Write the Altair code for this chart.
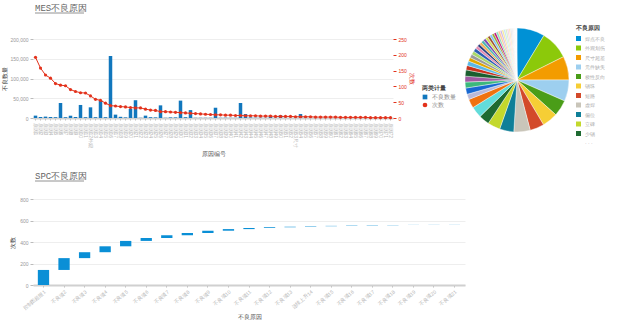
import altair as alt
import pandas as pd

BLUE = "#1177bd"
RED = "#e3321c"
WF_BLUE = "#0a8fd6"
PIE_COLORS = [
    "#0091d5", "#8cc90a", "#f39c00", "#9dcfef", "#4a9d18", "#f6ce35", "#d34a2a",
    "#c9c5b9", "#0f7f98", "#c3d82c", "#1e6a31", "#62dcda", "#f0720e", "#b9b9d8",
    "#1768d2", "#3bb87c", "#a05aa3", "#1a5e2f", "#c8311c", "#5ab7e6", "#e0a800",
    "#9a9a9a", "#a8d86a", "#2b5fb3", "#e58bb0", "#2c3e80", "#f4b05a", "#4cb7b0",
    "#7c4fb3", "#d4e157", "#a0522d", "#7fc8f8", "#9aa832", "#c2187b", "#90e0c0",
    "#ffc89a", "#cdb4e8", "#f5eb8f", "#c6e3f7", "#d6f0c0", "#f8d0e0", "#fde3c0",
    "#e0e0e0", "#ececec", "#f2f2f2", "#f5f5f5", "#f7f7f7", "#fafafa",
]

# ---------------- MES data ----------------
mes_codes = [f"原因{i}" for i in range(1, 73)]
mes_codes[11] = "原因12外观"
mes_codes[52] = "原因53尺寸"
mes_qty = [6000, 2500, 3500, 2500, 2000, 38000, 2000, 5800, 2500, 33000,
           2000, 27000, 2000, 44000, 2000, 157000, 8500, 3000, 1500, 23000,
           45000, 500, 6000, 2000, 1500, 32000, 500, 1500, 1500, 44000,
           2000, 20000, 500, 500, 500, 500, 26000, 500, 800, 500,
           500, 38000, 10000, 1500, 800, 1000, 500, 3000, 800, 7000,
           500, 500, 500, 10000, 800, 500, 600, 400, 500, 300,
           500, 400, 300, 500, 400, 300, 400, 300, 300, 200, 300, 200]
mes_times = [192, 158, 136, 126, 109, 104, 102, 90, 84, 80,
             79, 70, 59, 56, 47, 39, 38, 36, 35, 33,
             32, 32, 28, 25, 24, 20, 20, 19, 18, 17,
             16, 15, 14, 13, 12, 11, 10, 10, 9, 9,
             8, 8, 7, 7, 7, 6, 6, 6, 5, 5,
             5, 5, 4, 4, 4, 4, 3, 3, 3, 3,
             3, 2, 2, 2, 2, 2, 2, 1, 1, 1, 1, 1]
qty_ticks = [0, 50000, 100000, 150000, 200000]
times_ticks = [0, 50, 100, 150, 200, 250]
series_names = ["不良数量", "次数"]

# ---------------- pie data ----------------
pie_reasons = ["焊点不良", "外观划伤", "尺寸超差", "元件缺失", "极性反向", "锡珠",
               "短路", "虚焊", "偏位", "立碑", "少锡"] + [f"其他{i}" for i in range(12, 49)]
pie_counts = [310, 320, 264, 236, 180, 174, 158, 182, 158, 140, 117, 125, 100, 60,
              70, 66, 65, 70, 50, 50, 42, 40, 40, 38, 32, 30, 30, 30, 30, 28, 28,
              27, 25, 25, 24, 24, 20, 20, 20, 19, 18, 18, 15, 15, 14, 10, 10, 10]
MORE = "· · ·"

# ---------------- SPC data ----------------
spc_reasons = [f"不良项{i}" for i in range(1, 22)]
spc_reasons[0] = "控制图超限1"
spc_reasons[13] = "连续上升14"
spc_delta = [140, 110, 55, 55, 50, 27, 25, 22, 21, 15, 10, 7, 6, 4, 3, 3, 3, 2, 1, 1, 1]
spc_ticks = [0, 200, 400, 600, 800]

FONT = "Liberation Sans"
TFONT = "Liberation Mono"

mes_df = pd.DataFrame({"code": mes_codes, "qty": mes_qty, "times": mes_times})
pie_df = pd.DataFrame({"reason": pie_reasons, "cnt": pie_counts,
                       "idx": list(range(len(pie_reasons)))})
spc_df = pd.DataFrame({"reason": spc_reasons, "delta": spc_delta})
spc_df["end"] = spc_df["delta"].cumsum()
spc_df["start"] = spc_df["end"] - spc_df["delta"]

x_enc = alt.X(
    "code:N", sort=None, title="原因编号",
    scale=alt.Scale(paddingInner=0.3, paddingOuter=0.15),
    axis=alt.Axis(labelAngle=90, labelFontSize=5, labelColor="#b5b5b5",
                  labelOverlap=False, labelPadding=2, tickSize=2, tickColor="#bbbbbb",
                  domainColor="#d0d0d0", domainWidth=2, titleFontSize=6,
                  titleColor="#555555", titlePadding=3, titleFontWeight="normal"),
)

color_scale = alt.Scale(domain=series_names, range=[BLUE, RED])
legend = alt.Legend(
    title="两类计量", orient="none", legendX=389, legendY=46, titleFontSize=6,
    titleColor="#444", labelFontSize=6, labelColor="#888", symbolSize=22, rowPadding=2,
    titlePadding=3, symbolStrokeWidth=0,
    symbolType=alt.ExprRef("datum.value === '次数' ? 'circle' : 'square'"),
)

bars = alt.Chart(mes_df).transform_calculate(series=f"'{series_names[0]}'").mark_bar().encode(
    x=x_enc,
    y=alt.Y("qty:Q", scale=alt.Scale(domain=[0, 200000]), title="不良数量",
            axis=alt.Axis(values=qty_ticks, format=",.0f", domain=False, tickSize=3,
                          tickColor="#bbbbbb", labelFontSize=5, labelColor="#999",
                          labelPadding=2, titleFontSize=6, titleColor="#444",
                          titlePadding=2, titleFontWeight="normal", gridColor="#eeeeee")),
    color=alt.Color("series:N", scale=color_scale, legend=legend),
)

line = alt.Chart(mes_df).transform_calculate(series=f"'{series_names[1]}'").mark_line(
    strokeWidth=1, point=alt.OverlayMarkDef(size=10, filled=True)
).encode(
    x=alt.X("code:N", sort=None),
    y=alt.Y("times:Q", scale=alt.Scale(domain=[0, 250]), title="次数",
            axis=alt.Axis(orient="right", values=times_ticks, format=".0f", grid=False,
                          domain=False, tickSize=3, tickColor=RED, labelColor=RED,
                          labelFontSize=5, labelPadding=2, titleColor=RED, titleFontSize=6,
                          titlePadding=2, titleFontWeight="normal")),
    color=alt.Color("series:N", scale=color_scale, legend=legend),
)

underline1 = alt.Chart(alt.Data(values=[{}])).mark_rule(color="#777", strokeWidth=0.8).encode(
    x=alt.value(2), x2=alt.value(51), y=alt.value(-26)
)

top = alt.layer(bars, line, underline1).resolve_scale(y="independent").properties(
    width=360, height=79,
    title=alt.TitleParams("MES不良原因", anchor="start", frame="group", font=TFONT,
                          fontSize=9, fontWeight="normal", color="#666", offset=0, dx=2),
)

pie = alt.Chart(pie_df).mark_arc(outerRadius=52, stroke="white", strokeWidth=0.4).encode(
    theta=alt.Theta("cnt:Q", stack=True),
    color=alt.Color("reason:N", sort=None,
                    scale=alt.Scale(domain=pie_reasons + [MORE], range=PIE_COLORS + ["#ffffff"]),
                    legend=alt.Legend(title="不良原因", values=pie_reasons[:11] + [MORE],
                                      orient="none", legendX=111, legendY=-14,
                                      titleFontSize=6, titleColor="#444",
                                      labelFontSize=5, labelColor="#aaa",
                                      symbolType="square", symbolSize=25, symbolStrokeWidth=0,
                                      rowPadding=3.5, titlePadding=5)),
    order=alt.Order("idx:Q"),
).properties(width=104, height=82)

underline2 = alt.Chart(alt.Data(values=[{}])).mark_rule(color="#777", strokeWidth=0.8).encode(
    x=alt.value(2), x2=alt.value(51), y=alt.value(-18)
)

wf = alt.Chart(spc_df).mark_bar(color=WF_BLUE).encode(
    x=alt.X("reason:N", sort=None, title="不良原因",
            scale=alt.Scale(paddingInner=0.45, paddingOuter=0.235),
            axis=alt.Axis(labelAngle=-40, labelFontSize=5, labelColor="#b5b5b5",
                          labelOverlap=False, tickSize=2, tickColor="#bbbbbb",
                          domainColor="#d0d0d0", domainWidth=2, titleFontSize=6,
                          titleColor="#555", titleFontWeight="normal", titlePadding=3)),
    y=alt.Y("start:Q", scale=alt.Scale(domain=[0, 800]), title="次数",
            axis=alt.Axis(values=spc_ticks, format=".0f", domain=False, tickSize=3,
                          tickColor="#bbbbbb", labelFontSize=5, labelColor="#999",
                          labelPadding=2, titleFontSize=6, titleColor="#444",
                          titleFontWeight="normal", titlePadding=4, gridColor="#eeeeee")),
    y2="end:Q",
)

bottom = alt.layer(wf, underline2).properties(
    width=432, height=86,
    title=alt.TitleParams("SPC不良原因", anchor="start", frame="group", font=TFONT,
                          fontSize=9, fontWeight="normal", color="#666", offset=0, dx=2),
)

chart = alt.vconcat(
    alt.hconcat(top, pie, spacing=8).resolve_scale(color="independent"),
    bottom, spacing=14,
).configure(font=FONT, padding={"left": 1, "top": 3, "right": 0, "bottom": 0}
).configure_view(stroke=None)

chart.save("out.html", embed_options={"renderer": "svg", "actions": False})
